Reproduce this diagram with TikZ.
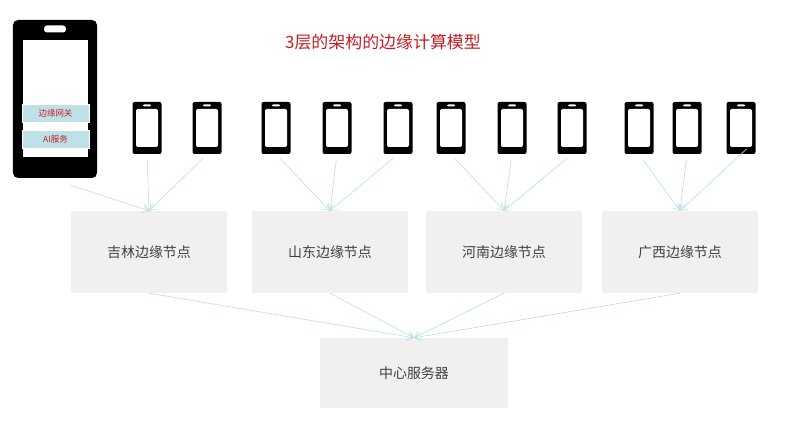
\documentclass[tikz,border=0pt]{standalone}
\usepackage{fontspec}
\setmainfont{Noto Sans CJK SC}
\usetikzlibrary{arrows.meta}
\definecolor{linkblue}{RGB}{188,222,228}
\definecolor{tagfill}{RGB}{190,224,230}
\definecolor{boxgray}{RGB}{240,240,240}
\definecolor{titlered}{RGB}{196,30,36}
\begin{document}
\begin{tikzpicture}[
    x=1bp, y=-1bp,
    every node/.style={align=center},
    phone/.style={fill=black, rounded corners=2bp, inner sep=0pt,
      minimum width=29bp, minimum height=52bp,
      path picture={
        \fill[white] ([shift={(3.5bp,-7bp)}]path picture bounding box.north west)
          rectangle ([shift={(-3.5bp,7bp)}]path picture bounding box.south east);
        \fill[white, rounded corners=1bp]
          ([shift={(-4bp,-2.5bp)}]path picture bounding box.north)
          rectangle ([shift={(4bp,-4.5bp)}]path picture bounding box.north);
      }},
    edgebox/.style={fill=boxgray, minimum width=156bp, minimum height=82bp,
      text=black!75, font=\fontsize{14}{16}\selectfont},
    tag/.style={fill=tagfill, draw=white, minimum width=67bp, minimum height=18bp,
      inner sep=0pt, text=titlered, font=\fontsize{8.5}{10}\selectfont},
    link/.style={draw=linkblue, line width=0.6pt, -{Straight Barb[length=6bp,width=8bp]}}
  ]
    \useasboundingbox (0,0) rectangle (800,435);
    \node[text=titlered, font=\fontsize{17}{20}\selectfont] (title) at (383,42)
      {3层的架构的边缘计算模型};
    % gateway phone
    \node[fill=black, rounded corners=5bp, minimum width=84bp, minimum height=158bp]
      (big) at (55,99) {};
    \node[fill=white, minimum width=65bp, minimum height=117bp, inner sep=0pt]
      (bigscreen) at (55.5,98.5) {};
    \node[fill=white, rounded corners=3bp, minimum width=22bp, minimum height=7bp,
      inner sep=0pt] (bigspeaker) at (55,29) {};
    \node[tag] (gateway) at (55.5,113) {边缘网关};
    \node[tag] (ai) at (55.5,139) {AI服务};
    \coordinate (gw) at (70,185);
    % terminals
    \foreach \i/\px in {1/147,2/207,3/276,4/337,5/398,6/451,7/512,8/572,9/639,10/687,11/741}
      \node[phone] (p\i) at (\px,128) {};
    % edge nodes
    \node[edgebox] (jilin) at (149,252) {吉林边缘节点};
    \node[edgebox] (shandong) at (330,252) {山东边缘节点};
    \node[edgebox] (henan) at (504,252) {河南边缘节点};
    \node[edgebox] (guangxi) at (680,252) {广西边缘节点};
    \node[fill=boxgray, minimum width=188bp, minimum height=70bp,
      text=black!75, font=\fontsize{14}{16}\selectfont] (center) at (414,373) {中心服务器};
    % links
    \draw[link] (gw) -- (jilin.north);
    \foreach \i in {1,2} \draw[link, shorten <=6bp] (p\i.south) -- (jilin.north);
    \foreach \i in {3,4,5} \draw[link, shorten <=6bp] (p\i.south) -- (shandong.north);
    \foreach \i in {6,7,8} \draw[link, shorten <=6bp] (p\i.south) -- (henan.north);
    \foreach \i in {9,10} \draw[link, shorten <=6bp] (p\i.south) -- (guangxi.north);
    \draw[link, shorten <=-8bp] (p11.south) -- (guangxi.north);
    \foreach \n in {jilin,shandong,henan,guangxi} \draw[link] (\n.south) -- (center.north);
  \end{tikzpicture}
\end{document}
